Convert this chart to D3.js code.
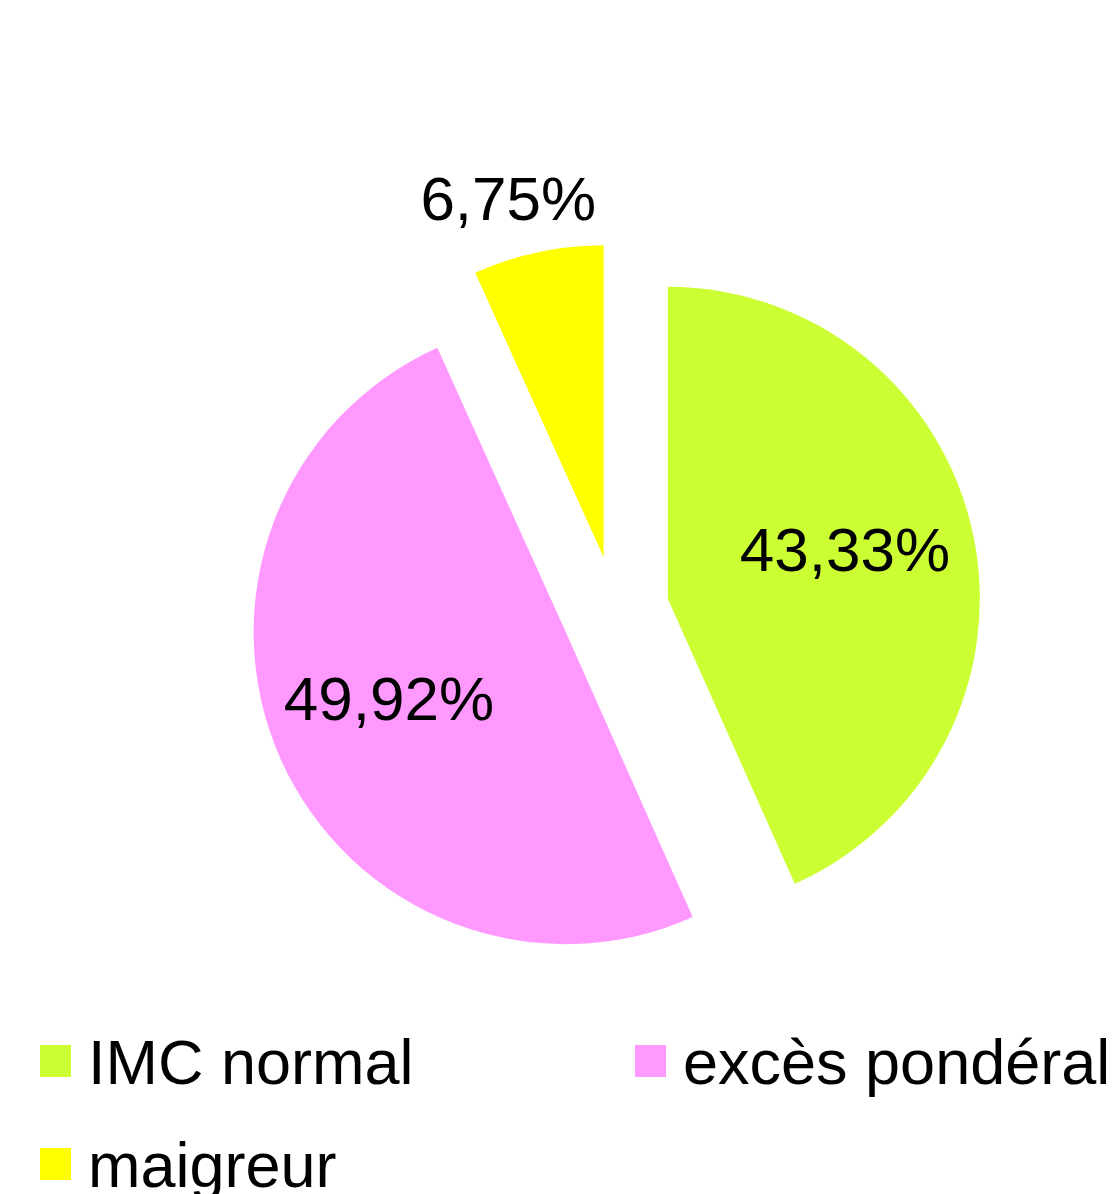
<!DOCTYPE html>
<html>
<head>
<meta charset="utf-8">
<script src="https://cdn.jsdelivr.net/npm/d3@7"></script>
<style>
  html, body { margin: 0; padding: 0; background: #fff; }
  svg { display: block; }
</style>
</head>
<body>
<div id="vis"></div>
<script>
// data
let categories = ["IMC normal", "excès pondéral", "maigreur"];
let values = [43.33, 49.92, 6.75];
let labels = ["43,33%", "49,92%", "6,75%"];
let colors = ["#CCFF33", "#FF99FF", "#FFFF00"];

let width = 1114,
  height = 1194;

let svg = d3.select("#vis")
  .append("svg")
  .attr("width", width)
  .attr("height", height)
  .style("font-family", "'Liberation Sans', Arial, sans-serif");

let cx = 615, cy = 610, radius = 312, explode = 54;

let pie = d3.pie().sort(null).value(d => d.value);
let arc = d3.arc().innerRadius(0).outerRadius(radius);

let data = categories.map((c, i) => ({ name: c, value: values[i], label: labels[i], color: colors[i] }));
let arcs = pie(data);

let g = svg.append("g").attr("transform", `translate(${cx},${cy})`);

function offset(d, r, shift) {
  let a = (d.startAngle + d.endAngle) / 2 + (shift || 0);
  return [Math.sin(a) * r, -Math.cos(a) * r];
}

function isSmall(d) {
  return (d.endAngle - d.startAngle) < 0.1 * 2 * Math.PI;
}

// slices, each pushed out from the centre
g.selectAll("path")
  .data(arcs)
  .join("path")
  .attr("transform", d => `translate(${offset(d, explode)})`)
  .attr("d", arc)
  .attr("fill", d => d.data.color);

// percentage labels: inside for big slices, outside for small
g.selectAll("text.lbl")
  .data(arcs)
  .join("text")
  .attr("class", "lbl")
  .attr("transform", d => {
    let small = isSmall(d);
    let r = small ? radius + 56 : radius * 0.6;
    let o = offset(d, explode);
    let p = offset(d, r, small ? -0.05 : 0);
    return `translate(${o[0] + p[0] - (small ? 0 : 6)},${o[1] + p[1] - (small ? 4 : 11)})`;
  })
  .attr("text-anchor", "middle")
  .attr("dy", "0.36em")
  .style("font-size", "62px")
  .attr("fill", "#000")
  .text(d => d.data.label);

// legend
let legendPos = [[40, 1061], [635, 1061], [40, 1164]];
let legend = svg.append("g")
  .selectAll("g")
  .data(data)
  .join("g")
  .attr("transform", (d, i) => `translate(${legendPos[i][0]},${legendPos[i][1]})`);

legend.append("rect")
  .attr("x", 0)
  .attr("y", -16)
  .attr("width", 31)
  .attr("height", 32)
  .attr("fill", d => d.color);

legend.append("text")
  .attr("x", 48)
  .attr("y", 23)
  .style("font-size", "63px")
  .attr("fill", "#000")
  .text(d => d.name);
</script>
</body>
</html>
